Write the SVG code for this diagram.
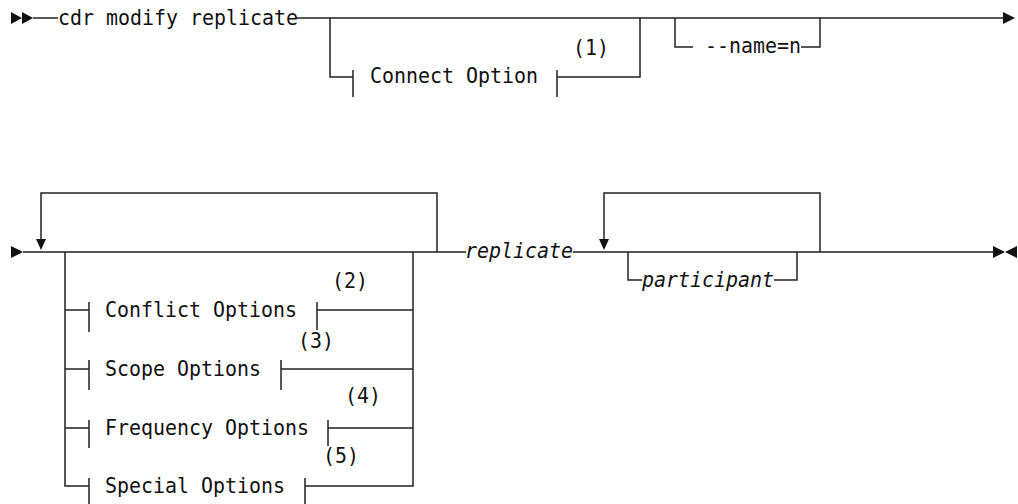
<svg xmlns="http://www.w3.org/2000/svg" width="1018" height="504" viewBox="0 0 1018 504">
<style>
.ln{fill:none;stroke:#222;stroke-width:1.5}
.t{font-family:"DejaVu Sans Mono","Liberation Mono",monospace;font-size:22px;fill:#111}
.i{font-style:italic}
.ah{fill:#111}
</style>
<rect width="1018" height="504" fill="#fff"/>
<g id="connectors">
<path class="ln" d="M33 18H58M296 18H1004"/>
<path class="ln" d="M330 18V77H353M557 77H640V18"/>
<path class="ln" d="M353 70V97M557 70V97"/>
<path class="ln" d="M675 18V47H693M801 47H820V18"/>
<path class="ln" d="M23 252H466M573 252H993"/>
<path class="ln" d="M41 241V193H437V252"/>
<path class="ln" d="M604 241V193H820V252"/>
<path class="ln" d="M628 252V280H642M774 280H797V252"/>
<path class="ln" d="M65 252V486H89M413 252V486H305"/>
<path class="ln" d="M65 310H89M317 310H413M65 369H89M281 369H413M65 428H89M328 428H413"/>
<path class="ln" d="M89 302V332M317 302V330M89 360V390M281 360V390M89 420V448M328 420V446M89 478V504M305 478V504"/>
</g>
<g id="markers">
<path class="ah" d="M11 12L22 18L11 24ZM22 12L33 18L22 24Z"/>
<path class="ah" d="M1003 12L1015 18L1003 24Z"/>
<path class="ah" d="M11 246L23 252L11 258Z"/>
<path class="ah" d="M36 239H46L41 250Z"/>
<path class="ah" d="M599 239H609L604 250Z"/>
<path class="ah" d="M993 246L1005 252L993 258ZM1017 246L1005 252L1017 258Z"/>
</g>
<g id="n-cmd"><text class="t" x="58" y="25" textLength="240" lengthAdjust="spacingAndGlyphs">cdr modify replicate</text></g>
<g id="n-connect"><text class="t" x="370" y="83" textLength="168" lengthAdjust="spacingAndGlyphs">Connect Option</text><text class="t" x="573" y="55" textLength="36" lengthAdjust="spacingAndGlyphs">(1)</text></g>
<g id="n-name"><text class="t" x="705" y="53" textLength="96" lengthAdjust="spacingAndGlyphs">--name=n</text></g>
<g id="n-conflict"><text class="t" x="105" y="317" textLength="192" lengthAdjust="spacingAndGlyphs">Conflict Options</text><text class="t" x="332" y="288" textLength="36" lengthAdjust="spacingAndGlyphs">(2)</text></g>
<g id="n-scope"><text class="t" x="105" y="376" textLength="156" lengthAdjust="spacingAndGlyphs">Scope Options</text><text class="t" x="298" y="348" textLength="36" lengthAdjust="spacingAndGlyphs">(3)</text></g>
<g id="n-frequency"><text class="t" x="105" y="435" textLength="204" lengthAdjust="spacingAndGlyphs">Frequency Options</text><text class="t" x="345" y="403" textLength="36" lengthAdjust="spacingAndGlyphs">(4)</text></g>
<g id="n-special"><text class="t" x="105" y="493" textLength="180" lengthAdjust="spacingAndGlyphs">Special Options</text><text class="t" x="323" y="463" textLength="36" lengthAdjust="spacingAndGlyphs">(5)</text></g>
<g id="n-replicate"><text class="t i" x="465" y="258" textLength="108" lengthAdjust="spacingAndGlyphs">replicate</text></g>
<g id="n-participant"><text class="t i" x="642" y="287" textLength="132" lengthAdjust="spacingAndGlyphs">participant</text></g>
</svg>
